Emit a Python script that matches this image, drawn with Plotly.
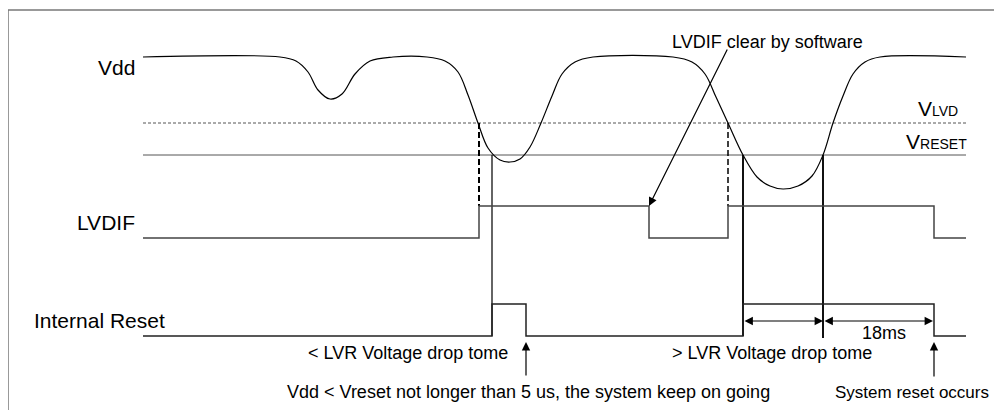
import plotly.graph_objects as go

# Vdd waveform (time, level); y grows downward
vdd_t = [143, 280, 296, 308, 318, 330, 342, 355, 370, 393, 427,
         445, 458, 468, 478, 488, 500, 510, 520, 530, 541, 552, 562, 575, 593,
         673, 692, 705, 716, 728, 743, 757, 770, 783, 798, 812, 823, 833, 843,
         853, 865, 880, 966]
vdd_v = [57, 57, 61, 72, 90, 99, 94, 74, 61, 57, 57,
         61, 72, 95, 123, 148, 160, 162, 159, 147, 123, 96, 74, 62, 57,
         57, 62, 74, 97, 123, 155, 177, 186, 189, 186, 176, 155, 123, 96,
         74, 62, 57, 57]

# thresholds
v_lvd = 123
v_reset = 155

# digital signals: edge times and levels
lvdif_t = [143, 479, 649, 728, 934, 966]
lvdif_v = [238, 206, 238, 206, 238, 238]
reset_t = [143, 492, 526, 743, 934, 966]
reset_v = [336, 304, 336, 304, 336, 336]

# event markers
lvd_cross = [479, 728]       # Vdd crosses VLVD
reset_cross = [492, 743, 823]  # Vdd crosses VRESET
clear_t = 649
sys_reset_t = 934
dim_y = 321

FONT = "Liberation Sans, Arial, sans-serif"
PAGE_OFFSET = 8  # default body margin of the html page

fig = go.Figure()

# threshold lines
fig.add_trace(go.Scatter(x=[143, 966], y=[v_lvd, v_lvd], mode="lines",
                         line=dict(color="#555", width=1, dash="3px,2px")))
fig.add_trace(go.Scatter(x=[143, 966], y=[v_reset, v_reset], mode="lines",
                         line=dict(color="#555", width=1)))

# markers from Vdd crossings down to the signals
for i, t in enumerate(lvd_cross):
    fig.add_trace(go.Scatter(x=[t, t], y=[v_lvd, lvdif_v[1]], mode="lines",
                             line=dict(color="black", width=2 if i == 0 else 1.5,
                                       dash="6px,3px")))
for i, t in enumerate(reset_cross):
    fig.add_trace(go.Scatter(x=[t, t], y=[v_reset, reset_v[0] + (2 if i == 2 else 0)],
                             mode="lines",
                             line=dict(color="#111", width=1.3 if i == 0 else 2)))

# signals
fig.add_trace(go.Scatter(x=vdd_t, y=vdd_v, mode="lines",
                         line=dict(color="black", width=1.2, shape="spline", smoothing=1)))
fig.add_trace(go.Scatter(x=lvdif_t, y=lvdif_v, mode="lines",
                         line=dict(color="#444", width=1.5, shape="hv")))
fig.add_trace(go.Scatter(x=reset_t, y=reset_v, mode="lines",
                         line=dict(color="#222", width=1.5, shape="hv")))

# frame (left and top edges)
fig.add_shape(type="line", x0=8, x1=8, y0=10, y1=420, line=dict(color="#777", width=1.5))
fig.add_shape(type="line", x0=8, x1=1010, y0=10, y1=10, line=dict(color="#777", width=1.5))


def label(x, y, text, size=18, anchor="left"):
    fig.add_annotation(x=x, y=y, text=text, showarrow=False, xanchor=anchor,
                       yanchor="middle", font=dict(family=FONT, size=size, color="black"))


def arrow(x, y, ax, ay, side="end", width=1.2):
    fig.add_annotation(x=x, y=y, ax=ax, ay=ay, axref="x", ayref="y", text="",
                       showarrow=True, arrowhead=2, arrowsize=1.4, arrowwidth=width,
                       arrowcolor="black", arrowside=side, standoff=0, startstandoff=0)


label(137, 67, "Vdd", 21, "right")
label(137, 222, "LVDIF", 21, "right")
label(32, 320, "Internal Reset", 21)
label(670, 42, "LVDIF clear by software")
label(960, 108, "V<span style='font-size:14px'>LVD</span>", 21, "right")
label(969, 141, "V<span style='font-size:14px'>RESET</span>", 21, "right")
label(306, 353, "< LVR Voltage drop tome")
label(285, 392, "Vdd < Vreset not longer than 5 us, the system keep on going")
label(670, 353, "> LVR Voltage drop tome")
label(860, 333, "18ms")
label(833, 392, "System reset occurs", 17)

arrow(clear_t, lvdif_v[1], 728, 48)
arrow(reset_t[2], 342, reset_t[2], 377)
arrow(sys_reset_t, 342, sys_reset_t, 378)
arrow(reset_cross[2], dim_y, reset_cross[1], dim_y, "end+start")
arrow(sys_reset_t - 1, dim_y, reset_cross[2], dim_y, "end+start")

fig.update_layout(
    width=1002, height=410, margin=dict(l=0, r=0, t=0, b=0),
    paper_bgcolor="white", plot_bgcolor="white", showlegend=False,
    xaxis=dict(range=[PAGE_OFFSET, 1002 + PAGE_OFFSET], visible=False, fixedrange=True),
    yaxis=dict(range=[410 + PAGE_OFFSET, PAGE_OFFSET], visible=False, fixedrange=True),
)

fig.write_html("out.html")
